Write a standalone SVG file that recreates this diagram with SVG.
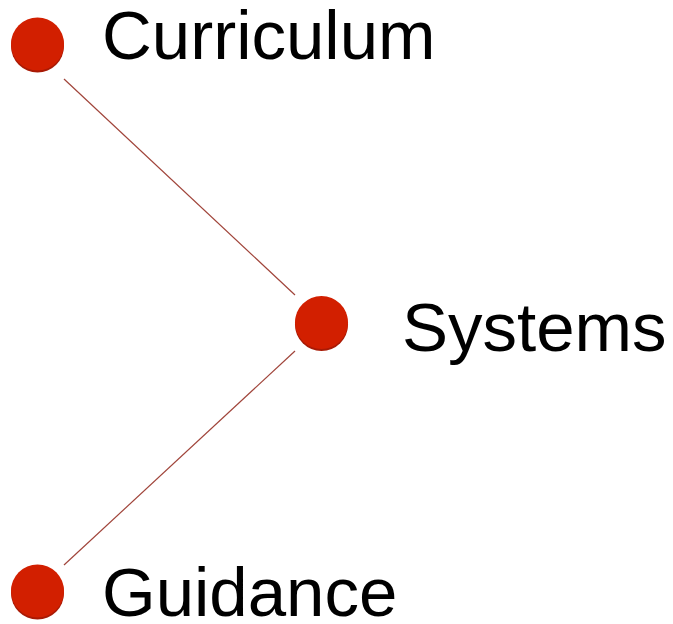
<svg xmlns="http://www.w3.org/2000/svg" width="673" height="624" viewBox="0 0 673 624">
<style>
.shadow{fill:#a81a05}
.dot{fill:#d21f00}
.lbl{font-family:"Liberation Sans",Arial,sans-serif;font-size:69px;fill:#000}
.edge{stroke:#a0443a;stroke-width:1.2;fill:none}
</style>
<rect width="673" height="624" fill="#fff"/>
<g id="connectors">
<line class="edge" x1="64" y1="79" x2="295" y2="295"/>
<line class="edge" x1="295" y1="351" x2="64" y2="565"/>
</g>
<g id="curriculum">
<circle class="shadow" cx="37.5" cy="46" r="26.5"/>
<circle class="dot" cx="37.5" cy="44" r="26.5"/>
<text class="lbl" x="102" y="59">Curriculum</text>
</g>
<g id="systems">
<circle class="shadow" cx="321.5" cy="324.5" r="26.5"/>
<circle class="dot" cx="321.5" cy="322.5" r="26.5"/>
<text class="lbl" x="402" y="351">Systems</text>
</g>
<g id="guidance">
<circle class="shadow" cx="37.5" cy="593" r="26.5"/>
<circle class="dot" cx="37.5" cy="591" r="26.5"/>
<text class="lbl" x="102" y="616">Guidance</text>
</g>
</svg>
